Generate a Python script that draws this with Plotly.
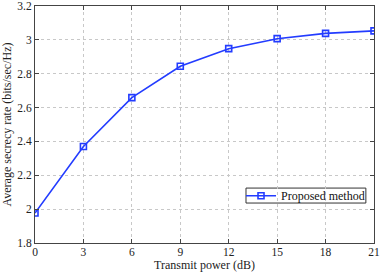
import plotly.graph_objects as go

power_db = [0, 3, 6, 9, 12, 15, 18, 21]
secrecy_rate = [1.977, 2.37, 2.659, 2.844, 2.948, 3.007, 3.038, 3.053]
x_ticks = [0, 3, 6, 9, 12, 15, 18, 21]
y_ticks = [1.8, 2.0, 2.2, 2.4, 2.6, 2.8, 3.0, 3.2]
y_tick_labels = ["1.8", "2", "2.2", "2.4", "2.6", "2.8", "3", "3.2"]

font_family = "Liberation Serif"
blue = "rgb(35,60,255)"

fig = go.Figure()
fig.add_trace(go.Scatter(
    x=power_db, y=secrecy_rate, mode="lines+markers", name="Proposed method",
    line=dict(color=blue, width=1.6),
    marker=dict(symbol="square-open", size=6, color=blue, line=dict(width=1.6, color=blue)),
))

axis_common = dict(
    showline=True, mirror="ticks", linecolor="#444", linewidth=1,
    ticks="inside", ticklen=4, tickcolor="#444",
    showgrid=True, gridcolor="#c8c8c8", griddash="dot", gridwidth=1,
    zeroline=False, automargin=False, ticklabeloverflow="allow",
    tickfont=dict(family=font_family, size=11.5, color="#222"),
)

# legend frame (white box with dark border)
fig.add_shape(type="rect", xref="paper", yref="paper",
              x0=0.6224, x1=0.976, y0=0.1686, y1=0.2318,
              fillcolor="white", line=dict(color="#333", width=1), layer="between")

fig.update_layout(
    width=381, height=272,
    margin=dict(l=35, r=7, t=6, b=29),
    plot_bgcolor="white", paper_bgcolor="white",
    font=dict(family=font_family, size=12, color="#222"),
    xaxis=dict(range=[0, 21], tickvals=x_ticks, ticklabelstandoff=-2,
               title=dict(text="Transmit power (dB)", font=dict(size=12)),
               **axis_common),
    yaxis=dict(range=[1.8, 3.2], tickvals=y_ticks, ticktext=y_tick_labels,
               title=dict(text="Average secrecy rate (bits/sec/Hz)", font=dict(size=12)),
               **axis_common),
    showlegend=True,
    legend=dict(x=0.6077, y=0.1993, xanchor="left", yanchor="middle",
                bgcolor="rgba(0,0,0,0)", borderwidth=0,
                font=dict(family=font_family, size=12, color="#111"),
                itemwidth=30, tracegroupgap=0),
)

fig.write_html("out.html", config={"displayModeBar": False},
               post_script="document.body.style.margin='0';")
